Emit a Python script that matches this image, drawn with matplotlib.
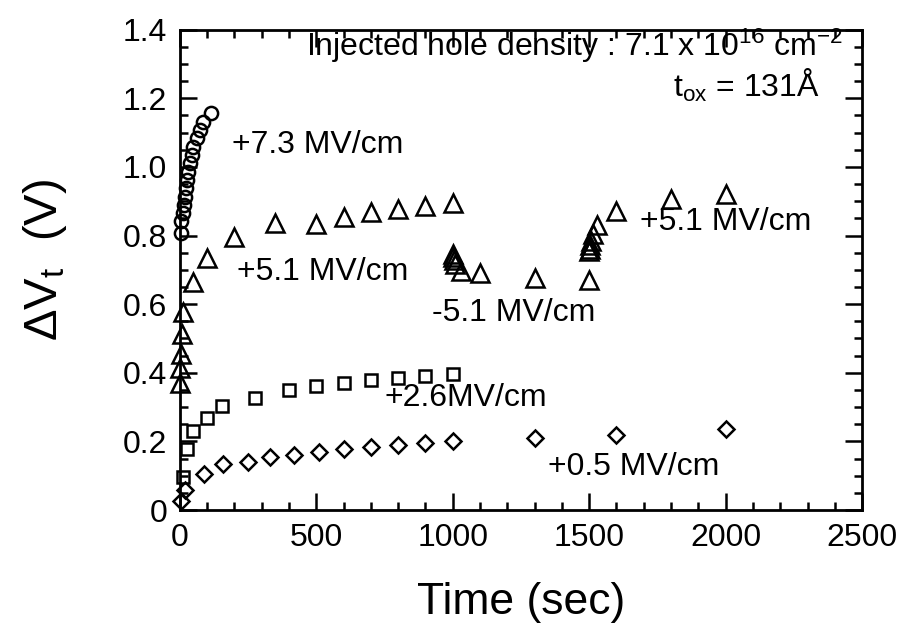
"""Threshold voltage shift vs. stress time for several oxide fields."""

import matplotlib
matplotlib.use("Agg")
import matplotlib.pyplot as plt
from matplotlib.ticker import MultipleLocator

# +7.3 MV/cm (circles)
t_73 = [3, 6, 10, 14, 18, 22, 26, 30, 36, 44, 50, 62, 74, 86, 116]
dv_73 = [0.807, 0.841, 0.865, 0.889, 0.913, 0.938, 0.962, 0.986, 1.011, 1.035,
         1.059, 1.084, 1.108, 1.132, 1.157]

# +5.1 / -5.1 / +5.1 MV/cm switching sequence (triangles)
t_51 = [1, 2, 4, 8, 12, 50, 100, 200, 350, 500, 600, 700, 800, 900, 1000,
        1001, 1002, 1004, 1010, 1030, 1100, 1300, 1500,
        1501, 1502, 1504, 1508, 1515, 1530, 1600, 1800, 2000]
dv_51 = [0.370, 0.413, 0.456, 0.513, 0.576, 0.665, 0.734, 0.795, 0.838, 0.835,
         0.855, 0.868, 0.876, 0.885, 0.895,
         0.745, 0.737, 0.728, 0.718, 0.697, 0.690, 0.676, 0.670,
         0.755, 0.762, 0.772, 0.785, 0.805, 0.832, 0.873, 0.906, 0.922]

# +2.6 MV/cm (squares)
t_26 = [12, 25, 50, 100, 156, 275, 400, 500, 600, 700, 800, 900, 1000]
dv_26 = [0.097, 0.178, 0.231, 0.269, 0.303, 0.327, 0.351, 0.362, 0.370, 0.380,
         0.386, 0.391, 0.396]

# +0.5 MV/cm (diamonds)
t_05 = [3, 20, 90, 160, 250, 330, 420, 510, 600, 700, 800, 900, 1000, 1300, 1600, 2000]
dv_05 = [0.025, 0.058, 0.106, 0.135, 0.140, 0.154, 0.160, 0.170, 0.178, 0.185,
         0.190, 0.195, 0.200, 0.210, 0.220, 0.235]

plt.rcParams["font.family"] = ["Liberation Sans", "DejaVu Sans"]
plt.rcParams["mathtext.fontset"] = "custom"
plt.rcParams["mathtext.rm"] = "Liberation Sans"
plt.rcParams["mathtext.it"] = "Liberation Sans:italic"

fig = plt.figure(figsize=(8.99, 6.32), dpi=100)
ax = fig.add_axes([0.200, 0.193, 0.759, 0.760])

style = dict(linestyle="none", markerfacecolor="none", markeredgecolor="black",
             markeredgewidth=1.8, clip_on=False)
ax.plot(t_73, dv_73, marker="o", markersize=9.5, **style)
ax.plot(t_51, dv_51, marker="^", markersize=12.5, **style)
ax.plot(t_26, dv_26, marker="s", markersize=8.5, **style)
ax.plot(t_05, dv_05, marker="D", markersize=8.0, **style)

ax.set_xlim(0, 2500)
ax.set_ylim(0, 1.4)
ax.xaxis.set_major_locator(MultipleLocator(500))
ax.xaxis.set_minor_locator(MultipleLocator(100))
ax.yaxis.set_major_locator(MultipleLocator(0.2))
ax.yaxis.set_minor_locator(MultipleLocator(0.05))
ax.set_yticks([0, 0.2, 0.4, 0.6, 0.8, 1.0, 1.2, 1.4],
              ["0", "0.2", "0.4", "0.6", "0.8", "1.0", "1.2", "1.4"])
ax.tick_params(which="both", direction="in", top=True, right=True, width=1.8,
               labelsize=23)
ax.tick_params(which="major", length=12, pad=9)
ax.tick_params(which="minor", length=6)
for spine in ax.spines.values():
    spine.set_linewidth(2)

ax.set_xlabel("Time (sec)", fontsize=32)
ax.set_ylabel(r"$\Delta$V$_\mathrm{t}$  (V)", fontsize=34)
ax.xaxis.set_label_coords(0.5, -0.15)
ax.yaxis.set_label_coords(-0.163, 0.52)

fs = 23
ax.text(190, 1.064, "+7.3 MV/cm", fontsize=fs, va="center")
ax.text(209, 0.694, "+5.1 MV/cm", fontsize=fs, va="center")
ax.text(923, 0.574, "-5.1 MV/cm", fontsize=fs, va="center")
ax.text(1685, 0.84, "+5.1 MV/cm", fontsize=fs, va="center")
ax.text(751, 0.327, "+2.6MV/cm", fontsize=fs, va="center")
ax.text(1348, 0.125, "+0.5 MV/cm", fontsize=fs, va="center")
ax.text(2428, 1.352, r"Injected hole density : 7.1 x 10$^{16}$ cm$^{-2}$",
        fontsize=fs, ha="right", va="center")
ax.text(2344, 1.238, r"t$_\mathrm{ox}$ = 131Å", fontsize=fs, ha="right", va="center")

fig.savefig("out.png", dpi=100)
